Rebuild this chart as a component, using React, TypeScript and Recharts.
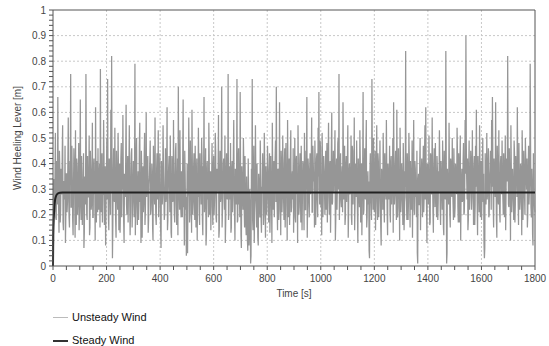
import { LineChart, Line, XAxis, YAxis, CartesianGrid, ReferenceLine } from 'recharts';

// unsteady wind heeling lever: samples at 0, 3, 6 ... 1800 s
const UNSTEADY_WIND = [
  0.12, 0.34, 0.21, 0.52, 0.18, 0.40, 0.66, 0.22, 0.45, 0.17, 0.38, 0.28, 0.55, 0.14, 0.33, 0.47, 0.20, 0.36, 0.25, 0.58,
  0.19, 0.41, 0.75, 0.23, 0.35, 0.12, 0.46, 0.29, 0.53, 0.16, 0.39, 0.26, 0.48, 0.21, 0.65, 0.18, 0.37, 0.30, 0.44, 0.13,
  0.32, 0.75, 0.20, 0.43, 0.27, 0.51, 0.15, 0.38, 0.24, 0.56, 0.19, 0.42, 0.31, 0.62, 0.17, 0.35, 0.46, 0.22, 0.40, 0.77,
  0.21, 0.44, 0.28, 0.57, 0.16, 0.39, 0.25, 0.50, 0.73, 0.19, 0.42, 0.30, 0.61, 0.82, 0.03, 0.37, 0.26, 0.54, 0.18, 0.45,
  0.29, 0.52, 0.14, 0.40, 0.23, 0.48, 0.33, 0.59, 0.17, 0.36, 0.27, 0.63, 0.20, 0.43, 0.31, 0.55, 0.12, 0.38, 0.46, 0.24,
  0.41, 0.19, 0.79, 0.28, 0.50, 0.16, 0.37, 0.24, 0.56, 0.32, 0.45, 0.11, 0.39, 0.26, 0.52, 0.21, 0.60, 0.30, 0.43, 0.18,
  0.35, 0.49, 0.22, 0.40, 0.15, 0.47, 0.29, 0.58, 0.19, 0.38, 0.26, 0.53, 0.33, 0.44, 0.14, 0.41, 0.24, 0.55, 0.30, 0.20,
  0.46, 0.27, 0.62, 0.18, 0.39, 0.31, 0.51, 0.13, 0.43, 0.25, 0.57, 0.21, 0.36, 0.48, 0.16, 0.42, 0.70, 0.28, 0.53, 0.23,
  0.37, 0.19, 0.65, 0.30, 0.45, 0.22, 0.04, 0.40, 0.27, 0.58, 0.17, 0.49, 0.33, 0.61, 0.20, 0.38, 0.26, 0.47, 0.15, 0.42,
  0.29, 0.54, 0.21, 0.44, 0.32, 0.50, 0.18, 0.39, 0.66, 0.24, 0.46, 0.13, 0.41, 0.28, 0.56, 0.20, 0.37, 0.31, 0.48, 0.16,
  0.43, 0.25, 0.52, 0.19, 0.38, 0.30, 0.59, 0.14, 0.45, 0.27, 0.70, 0.22, 0.40, 0.33, 0.51, 0.17, 0.44, 0.26, 0.75, 0.21,
  0.36, 0.48, 0.15, 0.41, 0.29, 0.57, 0.20, 0.38, 0.24, 0.73, 0.18, 0.46, 0.31, 0.68, 0.12, 0.39, 0.27, 0.50, 0.22, 0.43,
  0.17, 0.35, 0.10, 0.42, 0.08, 0.30, 0.01, 0.38, 0.73, 0.14, 0.47, 0.21, 0.55, 0.26, 0.40, 0.11, 0.36, 0.23, 0.49, 0.19,
  0.31, 0.44, 0.16, 0.52, 0.25, 0.39, 0.20, 0.47, 0.29, 0.35, 0.13, 0.43, 0.27, 0.56, 0.22, 0.41, 0.33, 0.49, 0.70, 0.24,
  0.38, 0.18, 0.64, 0.30, 0.45, 0.21, 0.51, 0.27, 0.40, 0.15, 0.48, 0.33, 0.57, 0.19, 0.42, 0.28, 0.53, 0.23, 0.37, 0.46,
  0.25, 0.50, 0.17, 0.43, 0.32, 0.55, 0.20, 0.39, 0.28, 0.47, 0.14, 0.41, 0.34, 0.52, 0.22, 0.45, 0.66, 0.26, 0.38, 0.19,
  0.44, 0.30, 0.58, 0.21, 0.40, 0.35, 0.49, 0.16, 0.42, 0.27, 0.54, 0.68, 0.24, 0.46, 0.31, 0.52, 0.19, 0.43, 0.29, 0.37,
  0.22, 0.48, 0.33, 0.56, 0.20, 0.41, 0.28, 0.60, 0.25, 0.45, 0.36, 0.53, 0.18, 0.42, 0.31, 0.50, 0.75, 0.27, 0.44, 0.23,
  0.39, 0.64, 0.26, 0.47, 0.19, 0.43, 0.32, 0.55, 0.21, 0.40, 0.29, 0.51, 0.16, 0.45, 0.34, 0.58, 0.24, 0.38, 0.49, 0.20,
  0.42, 0.28, 0.53, 0.17, 0.40, 0.31, 0.68, 0.22, 0.46, 0.26, 0.57, 0.19, 0.37, 0.33, 0.03, 0.44, 0.24, 0.73, 0.29, 0.50,
  0.21, 0.45, 0.30, 0.55, 0.18, 0.41, 0.27, 0.49, 0.15, 0.38, 0.33, 0.52, 0.23, 0.44, 0.29, 0.57, 0.20, 0.40, 0.26, 0.47,
  0.17, 0.43, 0.31, 0.50, 0.64, 0.24, 0.39, 0.28, 0.61, 0.19, 0.46, 0.33, 0.54, 0.21, 0.40, 0.27, 0.48, 0.14, 0.37, 0.84,
  0.25, 0.44, 0.18, 0.52, 0.30, 0.41, 0.22, 0.49, 0.34, 0.57, 0.20, 0.38, 0.28, 0.45, 0.01, 0.36, 0.24, 0.50, 0.31, 0.42,
  0.19, 0.47, 0.27, 0.55, 0.62, 0.23, 0.40, 0.32, 0.51, 0.16, 0.44, 0.29, 0.58, 0.21, 0.39, 0.35, 0.48, 0.26, 0.43, 0.18,
  0.37, 0.53, 0.22, 0.41, 0.30, 0.49, 0.15, 0.45, 0.27, 0.84, 0.01, 0.38, 0.33, 0.56, 0.20, 0.42, 0.28, 0.50, 0.24, 0.46,
  0.19, 0.40, 0.31, 0.54, 0.23, 0.44, 0.17, 0.51, 0.29, 0.38, 0.26, 0.48, 0.21, 0.57, 0.90, 0.34, 0.42, 0.18, 0.49, 0.27,
  0.45, 0.22, 0.53, 0.32, 0.39, 0.16, 0.47, 0.61, 0.25, 0.43, 0.30, 0.55, 0.19, 0.41, 0.28, 0.50, 0.36, 0.03, 0.44, 0.24,
  0.52, 0.29, 0.46, 0.20, 0.38, 0.33, 0.57, 0.66, 0.23, 0.42, 0.31, 0.64, 0.18, 0.47, 0.26, 0.53, 0.21, 0.40, 0.35, 0.49,
  0.27, 0.44, 0.19, 0.51, 0.30, 0.41, 0.82, 0.24, 0.46, 0.33, 0.55, 0.21, 0.38, 0.28, 0.49, 0.17, 0.43, 0.36, 0.62, 0.25,
  0.48, 0.22, 0.40, 0.31, 0.53, 0.18, 0.45, 0.27, 0.50, 0.34, 0.42, 0.20, 0.47, 0.29, 0.79, 0.23, 0.38, 0.12, 0.44, 0.26, 0.21,
];
// the in-between samples at 1.5, 4.5 ... 1798.5 s
const UNSTEADY_WIND_MID = [
  0.08, 0.27, 0.35, 0.19, 0.41, 0.24, 0.31, 0.13, 0.38, 0.22, 0.29, 0.44, 0.17, 0.33, 0.26, 0.09, 0.36, 0.21, 0.40, 0.28,
  0.15, 0.34, 0.23, 0.47, 0.18, 0.30, 0.39, 0.11, 0.26, 0.42, 0.20, 0.32, 0.14, 0.37, 0.25, 0.43, 0.16, 0.29, 0.07, 0.35,
  0.24, 0.40, 0.18, 0.31, 0.27, 0.12, 0.45, 0.22, 0.34, 0.19, 0.38, 0.28, 0.10, 0.33, 0.41, 0.21, 0.26, 0.36, 0.15, 0.30,
  0.39, 0.17, 0.28, 0.43, 0.23, 0.08, 0.35, 0.26, 0.32, 0.14, 0.40, 0.20, 0.29, 0.37, 0.16, 0.46, 0.25, 0.31, 0.11, 0.34,
  0.22, 0.38, 0.27, 0.13, 0.42, 0.19, 0.30, 0.36, 0.09, 0.28, 0.41, 0.24, 0.33, 0.17, 0.39, 0.26, 0.21, 0.44, 0.15, 0.31,
  0.27, 0.35, 0.12, 0.40, 0.23, 0.30, 0.18, 0.47, 0.25, 0.09, 0.36, 0.29, 0.21, 0.42, 0.16, 0.33, 0.27, 0.38, 0.13, 0.32,
  0.41, 0.20, 0.29, 0.35, 0.10, 0.38, 0.24, 0.31, 0.16, 0.44, 0.27, 0.19, 0.36, 0.23, 0.07, 0.34, 0.28, 0.40, 0.18, 0.30,
  0.25, 0.37, 0.14, 0.33, 0.43, 0.21, 0.28, 0.11, 0.39, 0.26, 0.32, 0.17, 0.45, 0.24, 0.30, 0.12, 0.37, 0.22, 0.35, 0.19,
  0.31, 0.42, 0.23, 0.08, 0.36, 0.27, 0.15, 0.05, 0.29, 0.40, 0.20, 0.33, 0.13, 0.38, 0.25, 0.44, 0.18, 0.30, 0.34, 0.10,
  0.27, 0.39, 0.16, 0.32, 0.24, 0.43, 0.12, 0.35, 0.21, 0.30, 0.08, 0.37, 0.26, 0.19, 0.41, 0.28, 0.14, 0.34, 0.23, 0.38,
  0.20, 0.31, 0.45, 0.17, 0.29, 0.36, 0.11, 0.33, 0.25, 0.40, 0.15, 0.28, 0.42, 0.22, 0.09, 0.35, 0.27, 0.31, 0.18, 0.39,
  0.26, 0.13, 0.37, 0.21, 0.43, 0.28, 0.10, 0.34, 0.30, 0.17, 0.40, 0.24, 0.19, 0.36, 0.07, 0.32, 0.22, 0.41, 0.15, 0.29,
  0.12, 0.25, 0.06, 0.30, 0.14, 0.21, 0.04, 0.28, 0.18, 0.33, 0.09, 0.26, 0.36, 0.15, 0.23, 0.08, 0.31, 0.19, 0.38, 0.13,
  0.29, 0.35, 0.20, 0.41, 0.11, 0.32, 0.26, 0.38, 0.17, 0.44, 0.23, 0.30, 0.09, 0.36, 0.27, 0.19, 0.42, 0.25, 0.33, 0.14,
  0.37, 0.22, 0.30, 0.12, 0.40, 0.27, 0.35, 0.18, 0.46, 0.24, 0.31, 0.10, 0.38, 0.29, 0.16, 0.43, 0.21, 0.34, 0.26, 0.13,
  0.33, 0.19, 0.41, 0.28, 0.09, 0.36, 0.23, 0.44, 0.17, 0.31, 0.27, 0.39, 0.14, 0.35, 0.22, 0.30, 0.11, 0.42, 0.25, 0.37,
  0.28, 0.40, 0.21, 0.47, 0.33, 0.15, 0.38, 0.26, 0.44, 0.19, 0.35, 0.30, 0.49, 0.23, 0.12, 0.41, 0.29, 0.36, 0.20, 0.45,
  0.32, 0.17, 0.43, 0.27, 0.38, 0.13, 0.46, 0.24, 0.35, 0.29, 0.41, 0.10, 0.37, 0.22, 0.48, 0.30, 0.18, 0.39, 0.26, 0.34,
  0.21, 0.44, 0.30, 0.16, 0.39, 0.25, 0.42, 0.11, 0.36, 0.28, 0.33, 0.19, 0.47, 0.24, 0.31, 0.14, 0.40, 0.27, 0.35, 0.09,
  0.36, 0.23, 0.41, 0.29, 0.12, 0.38, 0.20, 0.33, 0.27, 0.45, 0.15, 0.31, 0.24, 0.06, 0.37, 0.28, 0.18, 0.43, 0.22, 0.34,
  0.30, 0.14, 0.39, 0.25, 0.44, 0.19, 0.33, 0.28, 0.08, 0.36, 0.22, 0.41, 0.17, 0.31, 0.26, 0.38, 0.12, 0.35, 0.29, 0.21,
  0.40, 0.24, 0.32, 0.13, 0.37, 0.28, 0.45, 0.18, 0.34, 0.23, 0.30, 0.10, 0.42, 0.26, 0.35, 0.16, 0.39, 0.21, 0.31, 0.27,
  0.18, 0.36, 0.25, 0.43, 0.15, 0.32, 0.28, 0.11, 0.38, 0.22, 0.41, 0.27, 0.19, 0.05, 0.33, 0.24, 0.40, 0.14, 0.35, 0.29,
  0.37, 0.21, 0.44, 0.26, 0.33, 0.09, 0.39, 0.24, 0.30, 0.17, 0.42, 0.28, 0.35, 0.13, 0.46, 0.23, 0.31, 0.19, 0.38, 0.25,
  0.29, 0.41, 0.16, 0.34, 0.22, 0.38, 0.12, 0.31, 0.26, 0.43, 0.05, 0.30, 0.24, 0.37, 0.15, 0.40, 0.27, 0.33, 0.18, 0.36,
  0.23, 0.35, 0.28, 0.44, 0.17, 0.31, 0.39, 0.10, 0.34, 0.25, 0.41, 0.20, 0.30, 0.36, 0.47, 0.26, 0.14, 0.38, 0.22, 0.32,
  0.40, 0.27, 0.35, 0.16, 0.43, 0.24, 0.31, 0.37, 0.12, 0.33, 0.21, 0.39, 0.28, 0.18, 0.42, 0.25, 0.09, 0.07, 0.36, 0.30,
  0.26, 0.38, 0.19, 0.34, 0.45, 0.22, 0.31, 0.41, 0.15, 0.36, 0.27, 0.33, 0.11, 0.40, 0.24, 0.30, 0.17, 0.43, 0.28, 0.35,
  0.20, 0.37, 0.29, 0.14, 0.42, 0.33, 0.46, 0.23, 0.35, 0.10, 0.39, 0.26, 0.31, 0.18, 0.44, 0.24, 0.36, 0.27, 0.40, 0.16,
  0.33, 0.25, 0.38, 0.12, 0.41, 0.28, 0.35, 0.20, 0.43, 0.30, 0.15, 0.37, 0.24, 0.34, 0.47, 0.19, 0.31, 0.08, 0.36, 0.22,
];
const UNSTEADY_STEP = 3;

// steady wind: quick ramp-up then constant
const STEADY_TIME = [0, 1, 3, 5, 8, 12, 18, 25, 35, 1800];
const STEADY_WIND = [0, 0.12, 0.19, 0.23, 0.26, 0.275, 0.283, 0.286, 0.287, 0.287];

const X_MAJOR = [200, 400, 600, 800, 1000, 1200, 1400, 1600];
const Y_MAJOR = [0.1, 0.2, 0.3, 0.4, 0.5, 0.6, 0.7, 0.8, 0.9];
const X_TICKS = Array.from({ length: 37 }, (_, i) => i * 50);
const Y_TICKS = Array.from({ length: 51 }, (_, i) => i / 50);

const unsteadyData: { t: number; v: number }[] = [];
UNSTEADY_WIND.forEach((v, i) => {
  unsteadyData.push({ t: i * UNSTEADY_STEP, v });
  if (i < UNSTEADY_WIND_MID.length) {
    unsteadyData.push({ t: i * UNSTEADY_STEP + UNSTEADY_STEP / 2, v: UNSTEADY_WIND_MID[i] });
  }
});
const steadyData = STEADY_TIME.map((t, i) => ({ t, v: STEADY_WIND[i] }));

const FONT = '"Liberation Sans", Arial, sans-serif';
const AXIS = '#555';

const XTick = (props: any) => {
  const { x, y, payload } = props;
  if (payload.value % 200 !== 0) return <g />;
  return (
    <text x={x} y={y + 10} textAnchor="middle" fontSize={10} fill="#444" fontFamily={FONT}>
      {payload.value}
    </text>
  );
};

const YTick = (props: any) => {
  const { x, y, payload } = props;
  const n = Math.round(payload.value * 50);
  if (n % 5 !== 0) return <g />;
  return (
    <text x={x} y={y} dy={3.5} textAnchor="end" fontSize={10} fill="#444" fontFamily={FONT}>
      {String(n / 50)}
    </text>
  );
};

export default function App() {
  return (
    <div style={{ position: 'absolute', left: 0, top: 0, width: 549, height: 346, background: '#fff', fontFamily: FONT }}>
      <LineChart width={549} height={346} margin={{ top: 10, right: 14, bottom: 40, left: 0 }}>
        <CartesianGrid
          stroke="#c8c8c8"
          strokeDasharray="2 2"
          horizontalValues={Y_MAJOR}
          verticalValues={X_MAJOR}
        />
        <XAxis
          type="number"
          dataKey="t"
          domain={[0, 1800]}
          ticks={X_TICKS}
          interval={0}
          tick={<XTick />}
          tickSize={4}
          tickMargin={2}
          height={40}
          stroke={AXIS}
          allowDuplicatedCategory={false}
          label={(p: any) => (
            <text
              x={p.viewBox.x + p.viewBox.width / 2}
              y={p.viewBox.y + 31}
              textAnchor="middle"
              fontSize={10}
              fill="#444"
              fontFamily={FONT}
            >
              Time [s]
            </text>
          )}
        />
        <YAxis
          type="number"
          domain={[0, 1]}
          ticks={Y_TICKS}
          interval={0}
          tick={<YTick />}
          tickSize={4}
          tickMargin={3}
          width={53}
          stroke={AXIS}
          label={(p: any) => {
            const cx = p.viewBox.x + 17;
            const cy = p.viewBox.y + p.viewBox.height / 2;
            return (
              <text
                x={cx}
                y={cy}
                transform={`rotate(-90 ${cx} ${cy})`}
                textAnchor="middle"
                dominantBaseline="central"
                fontSize={10}
                fill="#444"
                fontFamily={FONT}
              >
                Wind Heeling Lever [m]
              </text>
            );
          }}
        />
        <ReferenceLine y={1} stroke={AXIS} />
        <ReferenceLine x={1800} stroke={AXIS} />
        <Line
          data={unsteadyData}
          dataKey="v"
          type="linear"
          stroke="#969696"
          strokeWidth={1.25}
          dot={false}
          isAnimationActive={false}
        />
        <Line
          data={steadyData}
          dataKey="v"
          type="monotone"
          stroke="#222"
          strokeWidth={2}
          dot={false}
          isAnimationActive={false}
        />
      </LineChart>
      <div style={{ position: 'absolute', left: 53, top: 306, fontSize: 11, color: '#111', lineHeight: '23px' }}>
        <div style={{ display: 'flex', alignItems: 'center' }}>
          <span style={{ display: 'inline-block', width: 15, height: 1, background: '#bbb', marginRight: 4 }} />
          Unsteady Wind
        </div>
        <div style={{ display: 'flex', alignItems: 'center' }}>
          <span style={{ display: 'inline-block', width: 15, height: 2, background: '#333', marginRight: 4 }} />
          Steady Wind
        </div>
      </div>
    </div>
  );
}
